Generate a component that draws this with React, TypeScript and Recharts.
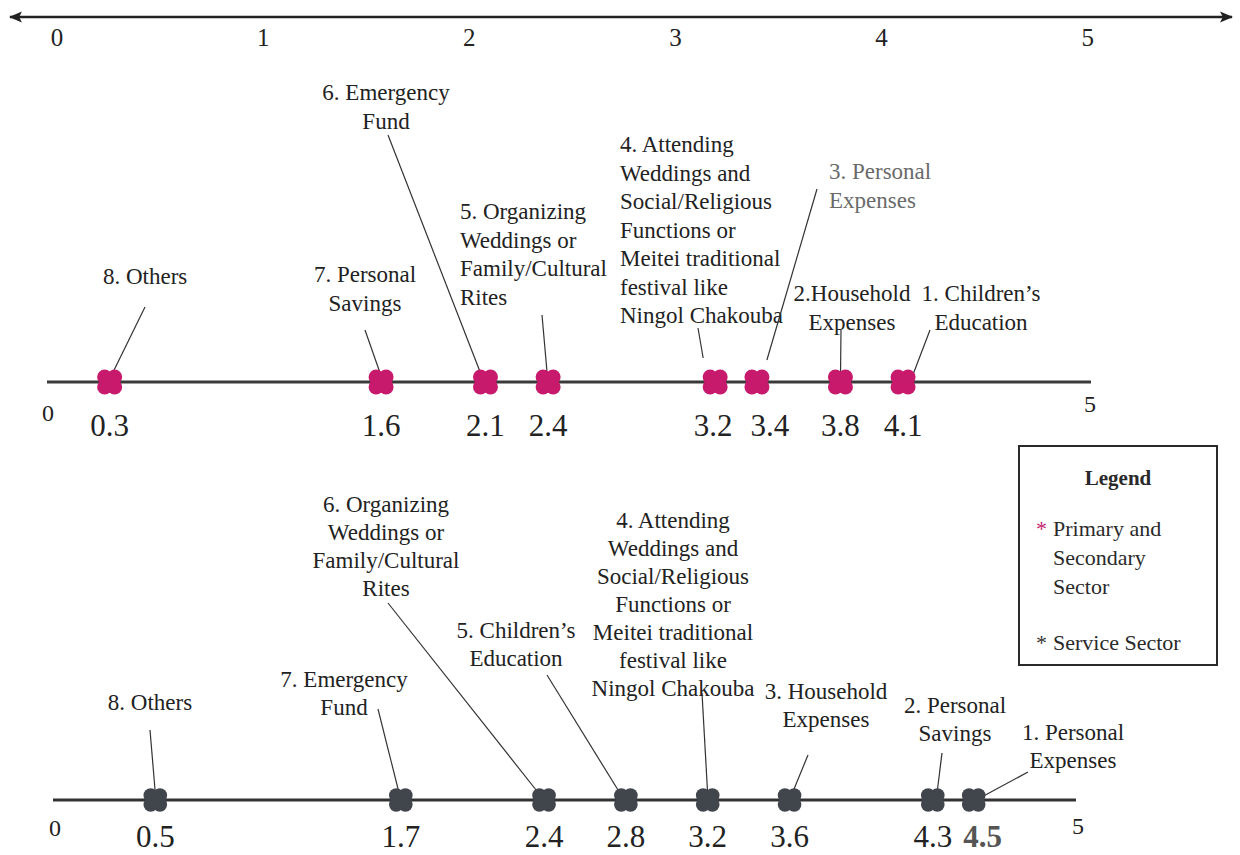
import React from "react";
import { ScatterChart, Scatter, XAxis, YAxis, Legend } from "recharts";

const FONT = '"Liberation Serif", "Times New Roman", Times, serif';
const PINK = "#c81a6c";
const SLATE = "#41464d";
const INK = "#222";

// scale on top of the figure
const scaleTicks = [0, 1, 2, 3, 4, 5];

// primary and secondary sector (upper line), left to right
const primaryValues = [0.3, 1.6, 2.1, 2.4, 3.2, 3.4, 3.8, 4.1];
const primaryLabels = [
  "8. Others",
  "7. Personal\nSavings",
  "6. Emergency\nFund",
  "5. Organizing\nWeddings or\nFamily/Cultural\nRites",
  "4. Attending\nWeddings and\nSocial/Religious\nFunctions or\nMeitei traditional\nfestival like\nNingol Chakouba",
  "3. Personal\nExpenses",
  "2.Household\nExpenses",
  "1. Children’s\nEducation",
];

// service sector (lower line), left to right
const serviceValues = [0.5, 1.7, 2.4, 2.8, 3.2, 3.6, 4.3, 4.5];
const serviceLabels = [
  "8. Others",
  "7. Emergency\nFund",
  "6. Organizing\nWeddings or\nFamily/Cultural\nRites",
  "5. Children’s\nEducation",
  "4. Attending\nWeddings and\nSocial/Religious\nFunctions or\nMeitei traditional\nfestival like\nNingol Chakouba",
  "3. Household\nExpenses",
  "2. Personal\nSavings",
  "1. Personal\nExpenses",
];

const legendTitle = "Legend";
const legendNames = ["Primary and Secondary Sector", "Service Sector"];

// where the callouts sit (page px): text anchor point, leader start, leader end offset from the dot
const primaryNotes = [
  { x: 103, y: 277, anchor: "start", lead: [145, 307], end: [3, -9] },
  { x: 365, y: 275, anchor: "middle", lead: [365, 330], end: [-1, -9] },
  { x: 386, y: 93, anchor: "middle", lead: [388, 135], end: [-3, -4] },
  { x: 460, y: 212, anchor: "start", lead: [542, 315], end: [-1, -9] },
  { x: 620, y: 145, anchor: "start", lead: [698, 328], end: [-12, -24] },
  { x: 829, y: 172, anchor: "start", lead: [817, 189], end: [10, -22], muted: true },
  { x: 852, y: 294, anchor: "middle", lead: [841, 330], end: [0, 0] },
  { x: 981, y: 294, anchor: "middle", lead: [930, 330], end: [9, -5] },
];
const serviceNotes = [
  { x: 150, y: 703, anchor: "middle", lead: [150, 730], end: [0, -7] },
  { x: 344, y: 680, anchor: "middle", lead: [378, 709], end: [-2, -8] },
  { x: 386, y: 505, anchor: "middle", lead: [388, 603], end: [-4, -5] },
  { x: 516, y: 631, anchor: "middle", lead: [547, 675], end: [-6, -7] },
  { x: 673, y: 521, anchor: "middle", lead: [702, 693], end: [0, -5] },
  { x: 826, y: 692, anchor: "middle", lead: [808, 755], end: [2, -5] },
  { x: 955, y: 706, anchor: "middle", lead: [942, 753], end: [4, -5] },
  { x: 1073, y: 733, anchor: "middle", lead: [1028, 772], end: [8, -3] },
];
// small horizontal nudges of crowded value labels (px)
const primaryLabelNudge: Record<number, number> = { 3.2: -2, 3.4: 13 };
const serviceLabelNudge: Record<number, number> = { 4.5: 9 };

const TOP_Y = 0;
const BOTTOM_Y = 440;

function blob(cx: number, cy: number, color: string, d: number, r: number) {
  return (
    <g fill={color}>
      {[[-1, -1], [1, -1], [-1, 1], [1, 1]].map(([sx, sy], k) => (
        <circle key={k} cx={cx + sx * d} cy={cy + sy * d} r={r} />
      ))}
      <circle cx={cx} cy={cy} r={d + r - 2.2} />
    </g>
  );
}

function makeShape(notes: any[], color: string, top: number, lineGap: number, d: number, r: number) {
  return (props: any) => {
    const { cx, cy, payload } = props;
    const n = notes[payload.idx];
    const lines = String(payload.label).split("\n");
    return (
      <g>
        <line
          x1={n.lead[0]}
          y1={n.lead[1] - top}
          x2={cx + n.end[0]}
          y2={cy + n.end[1]}
          stroke="#333"
          strokeWidth={1.2}
        />
        <text
          x={n.x}
          y={n.y - top + 7}
          textAnchor={n.anchor}
          fontFamily={FONT}
          fontSize={23}
          fill={n.muted ? "#6a6a6a" : INK}
        >
          {lines.map((t, k) => (
            <tspan key={k} x={n.x} dy={k === 0 ? 0 : lineGap}>
              {t}
            </tspan>
          ))}
        </text>
        {blob(cx, cy, color, d, r)}
      </g>
    );
  };
}

function makeTick(ends: Record<number, number[]>, baseline: number, nudge: Record<number, number>, strong?: number) {
  return (props: any) => {
    const { x, y, payload } = props;
    const v = payload.value;
    if (ends[v]) {
      return (
        <text x={x + ends[v][0]} y={y + ends[v][1] + 8} textAnchor="middle" fontFamily={FONT} fontSize={24} fill={INK}>
          {v}
        </text>
      );
    }
    const bold = strong !== undefined && v === strong;
    return (
      <text
        x={x + (nudge[v] || 0)}
        y={y + baseline}
        textAnchor="middle"
        fontFamily={FONT}
        fontSize={31}
        fontWeight={bold ? "bold" : "normal"}
        fill={bold ? "#555" : INK}
      >
        {v.toFixed(1)}
      </text>
    );
  };
}

function ScaleTick(props: any) {
  const { x, y, payload } = props;
  return (
    <text x={x} y={y + 29} textAnchor="middle" fontFamily={FONT} fontSize={25} fill={INK}>
      {payload.value}
    </text>
  );
}

function LegendBox() {
  const colors = [PINK, "#333"];
  return (
    <div
      style={{
        boxSizing: "border-box",
        width: 200,
        height: 221,
        border: "2px solid #2a2a2a",
        background: "#fff",
        fontFamily: FONT,
        color: "#2a2a2a",
        textAlign: "left",
      }}
    >
      <div style={{ textAlign: "center", fontWeight: "bold", fontSize: 21, lineHeight: "26px", marginTop: 18 }}>
        {legendTitle}
      </div>
      {legendNames.map((name, i) => (
        <div
          key={name}
          style={{ display: "flex", fontSize: 22, lineHeight: "29px", marginTop: i === 0 ? 23 : 27, paddingLeft: 16 }}
        >
          <span style={{ width: 17, flex: "none", color: colors[i] }}>*</span>
          <span style={{ width: 138 }}>{name}</span>
        </div>
      ))}
    </div>
  );
}

const scaleData = scaleTicks.map((v) => ({ v, y: 0 }));
const primaryData = primaryValues.map((v, idx) => ({ v, y: 0, idx, label: primaryLabels[idx] }));
const serviceData = serviceValues.map((v, idx) => ({ v, y: 0, idx, label: serviceLabels[idx] }));

export default function App() {
  return (
    <div style={{ position: "absolute", left: 0, top: 0, width: 1240, height: 855, background: "#fff", overflow: "hidden" }}>
      <svg width={0} height={0} style={{ position: "absolute" }}>
        <defs>
          <marker
            id="arrowHead"
            viewBox="0 0 12 10"
            refX={11}
            refY={5}
            markerWidth={13}
            markerHeight={12}
            markerUnits="userSpaceOnUse"
            orient="auto-start-reverse"
          >
            <path d="M0,0 L12,5 L0,10 L2.5,5 z" fill={INK} />
          </marker>
        </defs>
      </svg>

      <div style={{ position: "absolute", left: 0, top: TOP_Y }}>
        <ScatterChart width={1240} height={60} margin={{ top: 0, right: 8, bottom: 0, left: 10 }}>
          <XAxis
            type="number"
            dataKey="v"
            domain={[-0.228, 5.7]}
            allowDataOverflow
            ticks={scaleTicks}
            interval={0}
            height={43}
            tickLine={false}
            tickSize={0}
            tickMargin={0}
            tick={<ScaleTick />}
            axisLine={{ stroke: INK, strokeWidth: 2.5, markerStart: "url(#arrowHead)", markerEnd: "url(#arrowHead)" }}
          />
          <YAxis type="number" dataKey="y" domain={[0, 1]} hide />
          <Scatter data={scaleData} isAnimationActive={false} legendType="none" shape={() => <g />} />
        </ScatterChart>
      </div>

      <div style={{ position: "absolute", left: 0, top: TOP_Y }}>
        <ScatterChart width={1240} height={460} margin={{ top: 60, right: 149, bottom: 0, left: 47 }}>
          <XAxis
            type="number"
            dataKey="v"
            domain={[0, 5]}
            ticks={[0, ...primaryValues, 5]}
            interval={0}
            height={78}
            tickLine={false}
            tickSize={0}
            tickMargin={0}
            tick={makeTick({ 0: [1, 31], 5: [-1, 22] }, 54, primaryLabelNudge)}
            axisLine={{ stroke: "#3a3a3a", strokeWidth: 3 }}
          />
          <YAxis type="number" dataKey="y" domain={[0, 1]} hide />
          <Scatter
            name={legendNames[0]}
            data={primaryData}
            isAnimationActive={false}
            shape={makeShape(primaryNotes, PINK, TOP_Y, 28.5, 5, 7.5)}
          />
        </ScatterChart>
      </div>

      <div style={{ position: "absolute", left: 0, top: BOTTOM_Y }}>
        <ScatterChart width={1240} height={415} margin={{ top: 20, right: 164, bottom: 0, left: 53 }}>
          <XAxis
            type="number"
            dataKey="v"
            domain={[0, 5]}
            ticks={[0, ...serviceValues, 5]}
            interval={0}
            height={55}
            tickLine={false}
            tickSize={0}
            tickMargin={0}
            tick={makeTick({ 0: [2, 28], 5: [2, 26] }, 47, serviceLabelNudge, 4.5)}
            axisLine={{ stroke: "#333", strokeWidth: 3 }}
          />
          <YAxis type="number" dataKey="y" domain={[0, 1]} hide />
          <Scatter
            name={legendNames[1]}
            data={serviceData}
            isAnimationActive={false}
            shape={makeShape(serviceNotes, SLATE, BOTTOM_Y, 28, 4.6, 7.2)}
          />
          <Legend
            layout="horizontal"
            verticalAlign="middle"
            align="center"
            content={<LegendBox />}
            wrapperStyle={{ left: 1018, top: 5, width: 200, height: 221 }}
          />
        </ScatterChart>
      </div>
    </div>
  );
}
